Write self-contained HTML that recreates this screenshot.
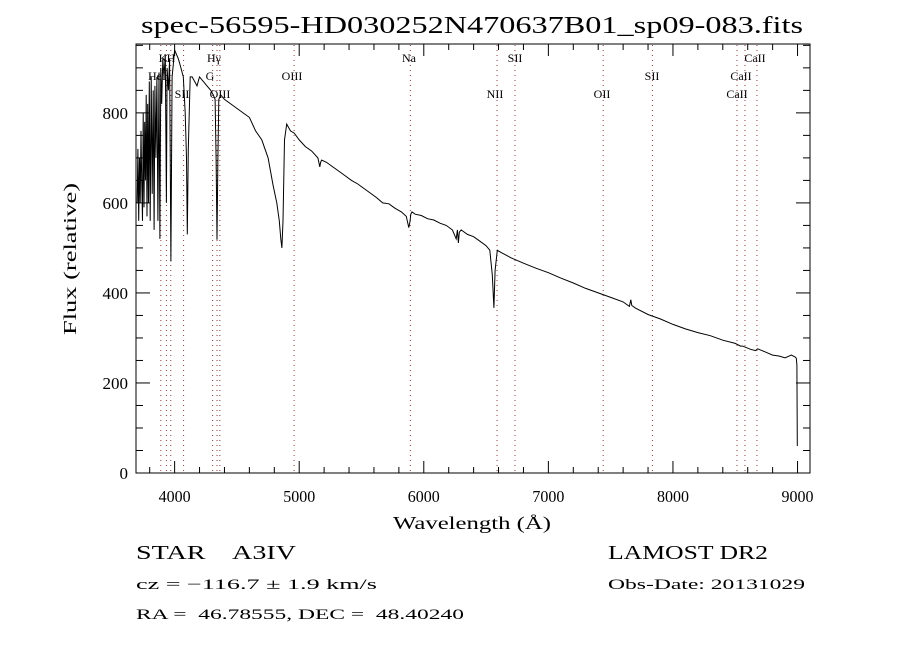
<!DOCTYPE html>
<html><head><meta charset="utf-8"><style>
body{margin:0;background:#fff;}
svg{display:block;font-family:"Liberation Serif",serif;}
</style></head><body>
<svg id="chart" width="900" height="650" viewBox="0 0 900 650">
<rect x="0" y="0" width="900" height="650" fill="#fff"/>
<text x="141" y="33" font-size="24" textLength="662" lengthAdjust="spacingAndGlyphs">spec-56595-HD030252N470637B01_sp09-083.fits</text>
<g id="lines"></g>
<g id="ticks"></g>
<path id="spec" fill="none" stroke="#000" stroke-width="1"/>
<rect x="136" y="44" width="674" height="429" fill="none" stroke="#000" stroke-width="1"/>
<text x="393" y="529" font-size="18" textLength="158" lengthAdjust="spacingAndGlyphs">Wavelength (Å)</text>
<text transform="translate(76,335) rotate(-90)" font-size="18" textLength="152" lengthAdjust="spacingAndGlyphs">Flux (relative)</text>
<text x="136" y="559" font-size="20" textLength="160" lengthAdjust="spacingAndGlyphs" xml:space="preserve">STAR    A3IV</text>
<text x="136" y="589" font-size="15" textLength="241" lengthAdjust="spacingAndGlyphs">cz = −116.7 ± 1.9 km/s</text>
<text x="136" y="619" font-size="15" textLength="328" lengthAdjust="spacingAndGlyphs" xml:space="preserve">RA =  46.78555, DEC =  48.40240</text>
<text x="608" y="559" font-size="20" textLength="160" lengthAdjust="spacingAndGlyphs">LAMOST DR2</text>
<text x="608" y="589" font-size="15" textLength="197" lengthAdjust="spacingAndGlyphs">Obs-Date: 20131029</text>
</svg>
<script>
const wave = [3700,3705,3712,3718,3724,3730,3736,3742,3748,3754,3760,3766,3772,3778,3784,3790,3797,3804,3812,3820,3828,3835,3842,3850,3858,3866,3875,3882,3889,3896,3905,3915,3925,3934,3940,3950,3960,3970,3980,3990,4000,4015,4030,4050,4070,4085,4095,4102,4110,4125,4140,4160,4180,4200,4230,4260,4290,4310,4325,4333,4340,4347,4355,4370,4400,4450,4500,4550,4600,4650,4700,4750,4790,4820,4840,4852,4861,4870,4882,4900,4930,4960,5000,5050,5100,5150,5165,5172,5180,5220,5270,5320,5370,5420,5470,5520,5570,5620,5670,5720,5770,5820,5860,5880,5890,5896,5905,5930,5980,6030,6080,6130,6180,6230,6260,6270,6278,6285,6300,6350,6400,6450,6500,6530,6550,6563,6572,6590,6620,6700,6800,6900,7000,7100,7200,7300,7400,7500,7600,7650,7662,7670,7700,7800,7900,8000,8100,8200,8300,8400,8500,8542,8560,8620,8662,8680,8750,8800,8850,8900,8950,8980,8990,8995,8998];
const flux = [600,720,560,700,600,760,650,560,800,590,780,650,840,570,820,600,870,560,880,620,850,540,860,700,880,560,890,520,900,820,920,880,930,600,900,850,920,470,880,910,940,930,920,900,880,800,700,530,720,880,880,870,860,880,870,860,850,840,830,700,518,700,830,840,830,820,810,800,790,760,740,700,640,600,560,520,500,560,740,775,760,755,740,725,715,700,680,690,695,690,680,670,660,650,642,632,622,612,600,598,588,580,570,545,560,575,580,575,572,565,562,555,550,540,520,540,511,535,540,530,525,515,505,495,440,367,450,495,490,478,466,455,445,433,422,410,400,390,380,370,385,372,366,352,342,330,320,312,305,295,288,282,282,275,272,276,268,262,260,256,262,258,255,240,60,0];
const lineWaves = [3889,3934,3969,4072,4305,4340,4363,4959,5892,6588,6732,7440,7835,8514,8578,8674];
const labels = ["HeI","K","H","SII","Hγ","G","OIII","OIII","Na","NII","SII","OII","SII","CaII","CaII","CaII"];
const labelX = [157,163,171,182,214,210,220,292,409,495,515,602,652,755,741,737];
const labelRow = [1,0,0,2,0,1,2,1,0,2,0,2,1,0,1,2];
const xTicks = [4000,5000,6000,7000,8000,9000];
const yTicks = [0,200,400,600,800];

const X0=136,X1=810,Y0=473,Y1=44, WMIN=3690, WMAX=9100, FMIN=0, FMAX=953;
const xs = w => X0 + (w-WMIN)/(WMAX-WMIN)*(X1-X0);
const ys = f => Y0 - (f-FMIN)/(FMAX-FMIN)*(Y0-Y1);
const NS="http://www.w3.org/2000/svg";
function mk(tag, attrs, parent){const e=document.createElementNS(NS,tag);for(const k in attrs)e.setAttribute(k,attrs[k]);parent.appendChild(e);return e;}

let d="";
for(let i=0;i<wave.length;i++){d+=(i?"L":"M")+xs(wave[i]).toFixed(1)+","+ys(flux[i]).toFixed(1);}
document.getElementById('spec').setAttribute('d',d);

const lg=document.getElementById('lines');
for(let i=0;i<lineWaves.length;i++){
  const x=xs(lineWaves[i]);
  const l=mk('line',{x1:x,x2:x,y1:45,y2:472,stroke:'#8b3a3a','stroke-width':1,'stroke-dasharray':'1,4'},lg);
  
  
  const t=mk('text',{x:labelX[i],y:62+labelRow[i]*18,'font-size':12,'text-anchor':'middle'},lg);
  t.textContent=labels[i];
  
  
}

const tg=document.getElementById('ticks');
for(let w=3800;w<=9100;w+=200){
  const x=xs(w);const major=(w%1000===0);const len=major?12:6;
  mk('line',{x1:x,x2:x,y1:Y0,y2:Y0-len,stroke:'#000'},tg);
  mk('line',{x1:x,x2:x,y1:Y1,y2:Y1+len,stroke:'#000'},tg);
}
for(const v of xTicks){
  const t=mk('text',{x:xs(v)-16,y:502,'font-size':17,textLength:32,lengthAdjust:'spacingAndGlyphs'},tg);
  t.textContent=v;
  
  
}
for(let f=0;f<=950;f+=50){
  const y=ys(f);const major=(f%200===0);const len=major?14:7;
  mk('line',{x1:X0,x2:X0+len,y1:y,y2:y,stroke:'#000'},tg);
  mk('line',{x1:X1,x2:X1-len,y1:y,y2:y,stroke:'#000'},tg);
}
for(const v of yTicks){
  const s=String(v);
  const t=mk('text',{x:128-s.length*8.5,y:ys(v)+6,'font-size':17,textLength:s.length*8.5,lengthAdjust:'spacingAndGlyphs'},tg);
  t.textContent=v;
  
  
}
</script>
</body></html>
